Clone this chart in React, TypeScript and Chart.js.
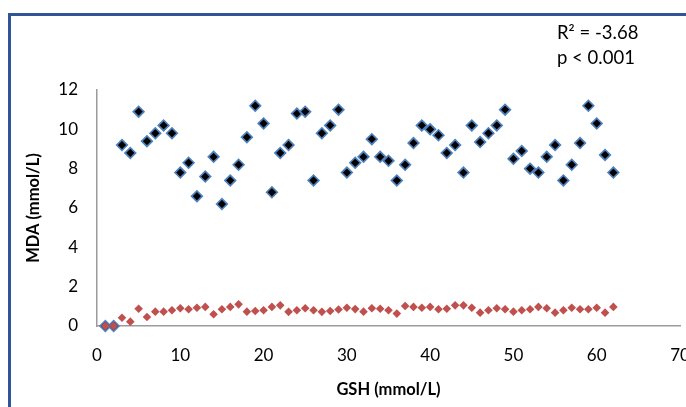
import { useEffect, useRef } from 'react';
import { Chart, registerables } from 'chart.js';

Chart.register(...registerables);

const gsh = [1, 2, 3, 4, 5, 6, 7, 8, 9, 10, 11, 12, 13, 14, 15, 16, 17, 18, 19, 20, 21, 22, 23, 24, 25, 26, 27, 28, 29, 30, 31, 32, 33, 34, 35, 36, 37, 38, 39, 40, 41, 42, 43, 44, 45, 46, 47, 48, 49, 50, 51, 52, 53, 54, 55, 56, 57, 58, 59, 60, 61, 62];

const mdaHigh = [0, 0, 9.2, 8.8, 10.9, 9.4, 9.8, 10.2, 9.8, 7.8, 8.3, 6.6, 7.6, 8.6, 6.2, 7.4, 8.2, 9.6, 11.2, 10.3, 6.8, 8.8, 9.2, 10.8, 10.9, 7.4, 9.8, 10.2, 11.0, 7.8, 8.3, 8.6, 9.5, 8.6, 8.4, 7.4, 8.2, 9.3, 10.2, 10.0, 9.7, 8.8, 9.2, 7.8, 10.2, 9.35, 9.8, 10.2, 11.0, 8.5, 8.9, 8.0, 7.8, 8.6, 9.2, 7.4, 8.2, 9.3, 11.2, 10.3, 8.7, 7.8];

const mdaLow = [0, 0, 0.42, 0.22, 0.88, 0.46, 0.73, 0.73, 0.8, 0.9, 0.85, 0.93, 0.97, 0.6, 0.85, 0.97, 1.1, 0.73, 0.76, 0.8, 0.97, 1.05, 0.72, 0.8, 0.9, 0.8, 0.72, 0.76, 0.84, 0.93, 0.86, 0.73, 0.9, 0.88, 0.8, 0.63, 1.02, 0.97, 0.93, 0.97, 0.85, 0.88, 1.05, 1.05, 0.93, 0.68, 0.8, 0.9, 0.85, 0.73, 0.8, 0.85, 0.97, 0.9, 0.68, 0.8, 0.93, 0.85, 0.85, 0.93, 0.68, 0.97];

const annotationLines = ['R\u00B2 = -3.68', 'p < 0.001'];
const xTitle = 'GSH (mmol/L)';
const yTitle = 'MDA (mmol/L)';

const FONT = 'Lato, "Open Sans", sans-serif';

export default function App() {
  const ref = useRef<HTMLCanvasElement | null>(null);

  useEffect(() => {
    const canvas = ref.current;
    if (!canvas) return;

    const framePlugin = {
      id: 'frame',
      beforeDraw(chart: any) {
        const c = chart.ctx;
        c.save();
        c.fillStyle = '#ffffff';
        c.fillRect(0, 0, chart.width, chart.height);
        c.strokeStyle = '#2f5597';
        c.lineWidth = 3;
        c.strokeRect(9.5, 14.5, 900, 600);
        c.restore();
      },
    };

    const notePlugin = {
      id: 'note',
      afterDraw(chart: any) {
        const c = chart.ctx;
        c.save();
        c.fillStyle = '#000000';
        c.font = `18.5px ${FONT}`;
        c.textAlign = 'left';
        c.textBaseline = 'middle';
        annotationLines.forEach((t, i) => {
          c.fillText(t, 557, 33 + i * 25);
        });
        c.restore();
      },
    };

    const chart = new Chart(canvas, {
      type: 'scatter',
      data: {
        datasets: [
          {
            label: 'High',
            data: gsh.map((x, i) => ({ x, y: mdaHigh[i] })),
            pointStyle: 'rectRot',
            pointRadius: 5.3,
            pointBackgroundColor: '#000000',
            pointBorderColor: '#4f81bd',
            pointBorderWidth: 1.7,
            order: 2,
            clip: false as any,
          },
          {
            label: 'Low',
            data: gsh.map((x, i) => ({ x, y: mdaLow[i] })),
            pointStyle: 'rectRot',
            pointRadius: 4.3,
            pointBackgroundColor: '#c0504d',
            pointBorderColor: '#c0504d',
            pointBorderWidth: 0,
            order: 1,
            clip: false as any,
          },
        ],
      },
      options: {
        animation: false,
        responsive: false,
        devicePixelRatio: 1,
        layout: { padding: { top: 90, right: 20, left: 0, bottom: 0 } },
        plugins: {
          legend: { display: false },
          tooltip: { enabled: false },
        },
        scales: {
          x: {
            type: 'linear',
            min: 0,
            max: 70,
            ticks: {
              stepSize: 10,
              padding: 19,
              color: '#000000',
              font: { family: FONT, size: 17 },
            },
            grid: { display: false, drawTicks: false },
            border: { display: true, color: '#9b9b9b', width: 1.5 },
            title: {
              display: true,
              text: xTitle,
              color: '#000000',
              font: { family: FONT, size: 16.5, weight: 'bold' },
              padding: { top: 0, bottom: 7 },
            },
            afterFit(s: any) {
              s.height = 81;
              s.paddingLeft = 0;
              s.paddingRight = 0;
            },
          },
          y: {
            type: 'linear',
            min: 0,
            max: 12,
            ticks: {
              stepSize: 2,
              padding: 19,
              color: '#000000',
              font: { family: FONT, size: 17 },
            },
            grid: { display: false, drawTicks: false },
            border: { display: true, color: '#9b9b9b', width: 1.5 },
            title: {
              display: true,
              text: yTitle,
              color: '#000000',
              font: { family: FONT, size: 16.5, weight: 'bold' },
              padding: { top: 24, bottom: 0 },
            },
            afterFit(s: any) {
              s.width = 97;
              s.paddingTop = 0;
              s.paddingBottom = 0;
            },
          },
        },
      } as any,
      plugins: [framePlugin, notePlugin],
    });

    return () => chart.destroy();
  }, []);

  return (
    <div
      style={{
        position: 'fixed',
        left: 0,
        top: 0,
        width: 686,
        height: 407,
        overflow: 'hidden',
        background: '#ffffff',
      }}
    >
      <canvas ref={ref} width={700} height={407} style={{ display: 'block' }} />
    </div>
  );
}
